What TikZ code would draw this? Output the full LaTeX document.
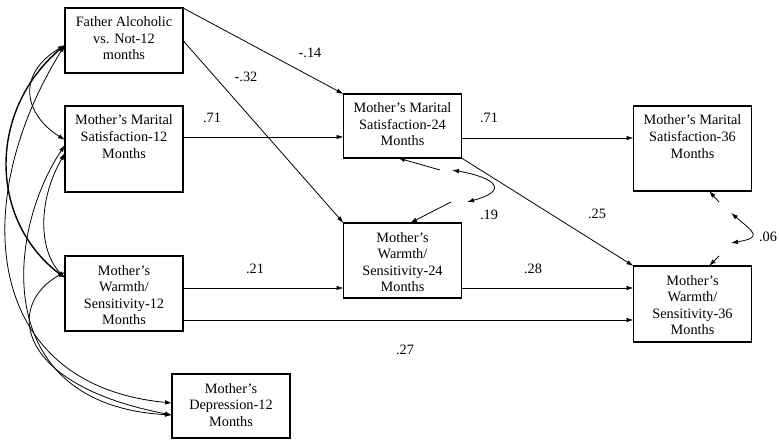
\documentclass[tikz,border=0pt]{standalone}
\usepackage{fontspec}
\setmainfont{Liberation Serif}
\usetikzlibrary{arrows.meta,positioning}

% box contents: fixed height, text at the top
\newcommand{\boxlines}[2]{\parbox[c][#1][t]{114pt}{\centering\rule{0pt}{19pt}#2}}

\begin{document}
\begin{tikzpicture}[x=1pt, y=1pt,
    >={Latex[length=7pt,width=4.5pt]},
    font=\fontsize{14.3}{16.5}\selectfont]
  \tikzset{VarStyle/.style = {shape        = rectangle,
                              draw,
                              line width   = 1.4pt,
                              inner sep    = 0pt,
                              outer sep    = 0pt,
                              minimum width= 118pt},
           PathStyle/.style = {->, line width=0.8pt},
           CorrStyle/.style = {<->, line width=0.8pt},
           LabelStyle/.style = {inner sep=0pt}}
  \useasboundingbox (0,0) rectangle (779,-441);

  %%% 12 MONTHS %%%
  \node[VarStyle] (fa12) at (124,-40.5) {\boxlines{65pt}{Father Alcoholic\\vs. Not-12\\months}};
  \node[VarStyle, below=33pt of fa12] (ms12) {\boxlines{86pt}{Mother's Marital\\Satisfaction-12\\Months}};
  \node[VarStyle, below=64pt of ms12] (w12) {\boxlines{75pt}{Mother's\\Warmth/\\Sensitivity-12\\Months}};
  \node[VarStyle, below right=43pt and -11pt of w12] (d12) {\boxlines{64pt}{Mother's\\Depression-12\\Months}};
  %%% 24 MONTHS %%%
  \node[VarStyle] (ms24) at (402.5,-126) {\boxlines{64pt}{Mother's Marital\\Satisfaction-24\\Months}};
  \node[VarStyle, below=65pt of ms24] (w24) {\boxlines{75pt}{Mother's\\Warmth/\\Sensitivity-24\\Months}};
  %%% 36 MONTHS %%%
  \node[VarStyle] (ms36) at (692.5,-148.5) {\boxlines{85pt}{Mother's Marital\\Satisfaction-36\\Months}};
  \node[VarStyle, below=75pt of ms36] (w36) {\boxlines{76pt}{Mother's\\Warmth/\\Sensitivity-36\\Months}};

  %%% PATHS %%%
  \coordinate (a1) at ([yshift=-31pt]ms12.north east);
  \coordinate (a2) at ([yshift=-44pt]ms24.north east);
  \coordinate (a3) at ([yshift=-32pt]w12.north east);
  \coordinate (a4) at ([yshift=-65pt]w24.north east);
  \coordinate (a5) at ([yshift=11pt]w12.south east);
  \draw[PathStyle] (fa12.north east) -- (ms24.north west);
  \draw[PathStyle] (fa12.east) -- (w24.north west);
  \draw[PathStyle] (a1) -- (a1 -| ms24.west);
  \draw[PathStyle] (a2) -- (a2 -| ms36.west);
  \draw[PathStyle] (ms24.south east) -- (w36.north west);
  \draw[PathStyle] (a3) -- (a3 -| w24.west);
  \draw[PathStyle] (a4) -- (a4 -| w36.west);
  \draw[PathStyle] (a5) -- (a5 -| w36.west);

  \node[LabelStyle] (c1) at (310,-53) {-.14};
  \node[LabelStyle] (c2) at (246,-77) {-.32};
  \node[LabelStyle] (c3) at (212,-118) {.71};
  \node[LabelStyle] (c4) at (489,-118) {.71};
  \node[LabelStyle] (c5) at (597,-214) {.25};
  \node[LabelStyle] (c6) at (255,-269) {.21};
  \node[LabelStyle] (c7) at (533,-269) {.28};
  \node[LabelStyle] (c8) at (405,-350) {.27};

  %%% RESIDUALS %%%
  \coordinate (e1) at (440,-170);
  \coordinate (e2) at (451,-202);
  \coordinate (e3) at (719,-202);
  \coordinate (e4) at (719,-256);
  \draw[PathStyle] (e1) -- ([xshift=-4.5pt]ms24.south);
  \draw[PathStyle] (e2) -- ([xshift=7.5pt]w24.north);
  \draw[PathStyle] (e3) -- ([xshift=16.5pt]ms36.south);
  \draw[PathStyle] (e4) -- ([xshift=16.5pt]w36.north);
  \draw[CorrStyle] ([xshift=12pt]e1) to[out=-10, in=15, looseness=3.2] ([xshift=16pt]e2);
  \draw[CorrStyle] ([xshift=12pt,yshift=-11pt]e3) to[out=-40, in=10, looseness=2.7] ([xshift=12pt,yshift=13pt]e4);
  \node[LabelStyle] (c9) at (489,-215) {.19};
  \node[LabelStyle] (c10) at (768,-237) {.06};

  %%% CORRELATIONS AT 12 MONTHS %%%
  \draw[CorrStyle] ([yshift=-4.5pt]fa12.west) .. controls (15,-75) and (25,-115) .. ([yshift=9pt]ms12.west);
  \draw[CorrStyle, line width=1.4pt] ([yshift=-4.5pt]fa12.west) .. controls (-12,-110) and (-12,-220) .. ([yshift=15.5pt]w12.west);
  \draw[CorrStyle] ([yshift=-4.5pt]fa12.west) .. controls (-32,-200) and (-18,-385) .. ([yshift=3pt]d12.west);
  \draw[CorrStyle] ([yshift=4pt]ms12.west) .. controls (5,-235) and (-8,-405) .. ([yshift=-9pt]d12.west);
  \draw[CorrStyle] ([yshift=-4pt]ms12.west) .. controls (38,-200) and (38,-250) .. ([yshift=15.5pt]w12.west);
  \draw[CorrStyle] ([yshift=21.5pt]w12.west) .. controls (5,-305) and (15,-385) .. ([yshift=-9pt]d12.west);
\end{tikzpicture}
\end{document}
